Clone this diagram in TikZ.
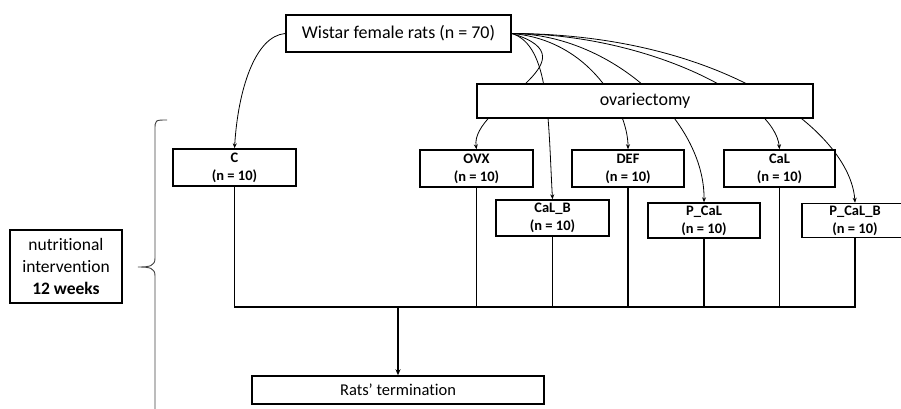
\documentclass[tikz,border=0pt]{standalone}
\usepackage{fontspec}
\setmainfont{Carlito}[Ligatures=NoCommon]
\usetikzlibrary{arrows.meta,backgrounds}
\begin{document}
\begin{tikzpicture}[x=1pt,y=-1pt,
  box/.style={draw,line width=1.5pt,fill=white,inner sep=0pt,align=center},
  big/.style={font=\fontsize{18}{22}\selectfont},
  grp/.style={box,font=\fontsize{14.5}{18}\selectfont\bfseries,minimum height=36pt},
  arr/.style={line width=0.8pt,-{Stealth[length=5pt,width=4pt]}},
  busline/.style={line width=1.3pt}]
\useasboundingbox (0,0) rectangle (901,409);
% nodes
\node[box,big,minimum width=225pt,minimum height=37pt] (W) at (398.5,33.5) {Wistar female rats (n = 70)};
\node[box,big,minimum width=336pt,minimum height=34pt] (ov) at (645,101) {ovariectomy};
\node[grp,minimum width=123pt,minimum height=37pt] (C) at (234.5,167.5) {C\\(n = 10)};
\node[grp,minimum width=113pt,minimum height=37pt] (OVX) at (476.5,168.5) {OVX\\(n = 10)};
\node[grp,minimum width=112pt,minimum height=37pt] (DEF) at (628,168.5) {DEF\\(n = 10)};
\node[grp,minimum width=111pt,minimum height=37pt] (CaL) at (779.5,168.5) {CaL\\(n = 10)};
\node[grp,minimum width=113pt,minimum height=36pt] (CaLB) at (552.5,218) {CaL\_B\\(n = 10)};
\node[grp,minimum width=112pt,minimum height=35pt] (PCaL) at (704,220.5) {P\_CaL\\(n = 10)};
\node[grp,minimum width=106pt,minimum height=34pt] (PCaLB) at (855,220.5) {P\_CaL\_B\\(n = 10)};
\node[box,font=\fontsize{16.5}{20}\selectfont,minimum width=292pt,minimum height=28pt] (term) at (398,390) {Rats’ termination};
\node[box,font=\fontsize{17.5}{21.7}\selectfont,minimum width=112pt,minimum height=73pt] (nut) at (66,266.5) {nutritional\\intervention\\\textbf{12 weeks}};
% curves behind boxes
\begin{scope}[on background layer]
\draw[arr] (W.west) .. controls (255,36) and (238,90) .. (C.north);
\draw[arr] (W.east) .. controls (600,60) and (470,105) .. (OVX.north);
\draw[arr] (W.east) .. controls (550,45) and (548,120) .. (CaLB.north);
\draw[arr] (W.east) .. controls (590,40) and (628,110) .. (DEF.north);
\draw[arr] (W.east) .. controls (610,34) and (705,120) .. (PCaL.north);
\draw[arr] (W.east) .. controls (650,34) and (775,100) .. (CaL.north);
\draw[arr] (W.east) .. controls (720,34) and (850,130) .. (PCaLB.north);
\end{scope}
% bus
\coordinate (bus) at (398,307);
\draw[busline] (C.south) -- (C.south |- bus) -- (PCaLB.south |- bus) -- (PCaLB.south);
\draw[busline] (OVX.south) -- (OVX.south |- bus);
\draw[busline] (CaLB.south) -- (CaLB.south |- bus);
\draw[busline] (DEF.south) -- (DEF.south |- bus);
\draw[busline] (PCaL.south) -- (PCaL.south |- bus);
\draw[busline] (CaL.south) -- (CaL.south |- bus);
\draw[busline,-{Stealth[length=6pt,width=5pt]}] (bus) -- (term.north);
% brace
\coordinate (tip) at (138,267);
\draw[line width=0.9pt,black!75] (167,120) .. controls (155,120) .. (155,130) -- (155,258)
  .. controls (155,266) and (150,267) .. (tip)
  .. controls (150,267) and (155,268) .. (155,276) -- (155,412);
\end{tikzpicture}
\end{document}
